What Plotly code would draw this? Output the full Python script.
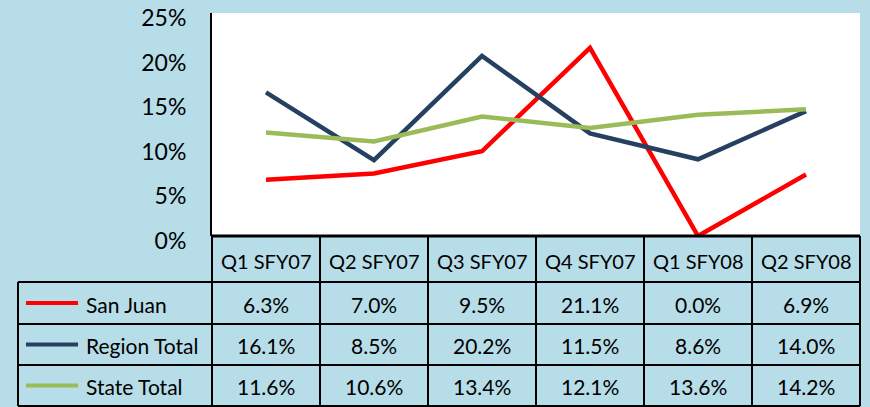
import plotly.graph_objects as go

# quarters shown on the x axis / table header
quarters = ['Q1 SFY07', 'Q2 SFY07', 'Q3 SFY07', 'Q4 SFY07', 'Q1 SFY08', 'Q2 SFY08']

# rates in percent
san_juan = [6.3, 7.0, 9.5, 21.1, 0.0, 6.9]
region_total = [16.1, 8.5, 20.2, 11.5, 8.6, 14.0]
state_total = [11.6, 10.6, 13.4, 12.1, 13.6, 14.2]

series_names = ['San Juan', 'Region Total', 'State Total']
series_values = [san_juan, region_total, state_total]
series_colors = ['#FF0000', '#254061', '#9BBB59']

y_ticks = [0, 5, 10, 15, 20, 25]

bg = '#B7DDE8'
font_family = 'Lato, Calibri, sans-serif'

# plot area in pixels (870x407 canvas)
L, R, T, B = 212, 860, 13, 236

def px(x):
    return (x - L) / (R - L)

def py(y):
    return (B - y) / (B - T)

# table row edges (pixels)
row_edges = [236, 282, 324, 365, 406]
legend_left = 18

fig = go.Figure()
for name, vals, col in zip(series_names, series_values, series_colors):
    fig.add_trace(go.Scatter(x=quarters, y=vals, mode='lines', name=name,
                             line=dict(color=col, width=4.5)))

shapes = []
ann = []
line_style = dict(color='black', width=2)

# horizontal table lines
for i, y in enumerate(row_edges):
    x0 = L if i == 0 else legend_left
    w = 3 if i == 0 else 2
    shapes.append(dict(type='line', xref='paper', yref='paper', x0=px(x0), x1=px(R),
                       y0=py(y), y1=py(y), line=dict(color='black', width=w)))
# vertical table lines
col_w = (R - L) / len(quarters)
for k in range(len(quarters) + 1):
    x = L + k * col_w
    shapes.append(dict(type='line', xref='paper', yref='paper', x0=px(x), x1=px(x),
                       y0=py(row_edges[0]), y1=py(row_edges[-1]), line=line_style))
shapes.append(dict(type='line', xref='paper', yref='paper', x0=px(legend_left), x1=px(legend_left),
                   y0=py(row_edges[1]), y1=py(row_edges[-1]), line=line_style))

cell_font = dict(size=21, color='black', family=font_family)
head_font = dict(size=20, color='black', family=font_family)

# header text
hy = (row_edges[0] + row_edges[1]) / 2 + 2
for q in quarters:
    ann.append(dict(x=q, xref='x', y=py(hy), yref='paper', text=q, showarrow=False,
                    xanchor='center', yanchor='middle', font=head_font))

# data rows with legend keys
for r, (name, vals, col) in enumerate(zip(series_names, series_values, series_colors)):
    cy = (row_edges[r + 1] + row_edges[r + 2]) / 2 + 1
    shapes.append(dict(type='line', xref='paper', yref='paper', x0=px(26), x1=px(78),
                       y0=py(cy - 1), y1=py(cy - 1), line=dict(color=col, width=4)))
    ann.append(dict(x=px(84), xref='paper', y=py(cy), yref='paper', text=name,
                    showarrow=False, xanchor='left', yanchor='middle', font=cell_font))
    for q, v in zip(quarters, vals):
        ann.append(dict(x=q, xref='x', y=py(cy), yref='paper', text=f'{v:.1f}%',
                        showarrow=False, xanchor='center', yanchor='middle', font=cell_font))

fig.update_layout(
    width=870, height=407,
    margin=dict(l=L, r=870 - R, t=T, b=407 - B, autoexpand=False),
    paper_bgcolor=bg, plot_bgcolor='white',
    showlegend=False,
    font=dict(family=font_family, color='black'),
    shapes=shapes, annotations=ann,
    xaxis=dict(type='category', range=[-0.5, len(quarters) - 0.5],
               showticklabels=False, showgrid=False, zeroline=False, showline=False,
               ticks='', automargin=False),
    yaxis=dict(range=[0, 25], tickmode='array', tickvals=y_ticks,
               ticktext=[f'{v}%' for v in y_ticks],
               showgrid=False, zeroline=False, automargin=False,
               showline=True, linecolor='black', linewidth=2,
               ticks='', ticklabelstandoff=19, ticklabelshift=5,
               ticklabeloverflow='allow',
               tickfont=dict(size=23, color='black', family=font_family)),
)

# drop the default page margin so the figure sits at the window's corner
fig.write_html('out.html', config={'displayModeBar': False},
               post_script="document.body.style.margin='0px';")
